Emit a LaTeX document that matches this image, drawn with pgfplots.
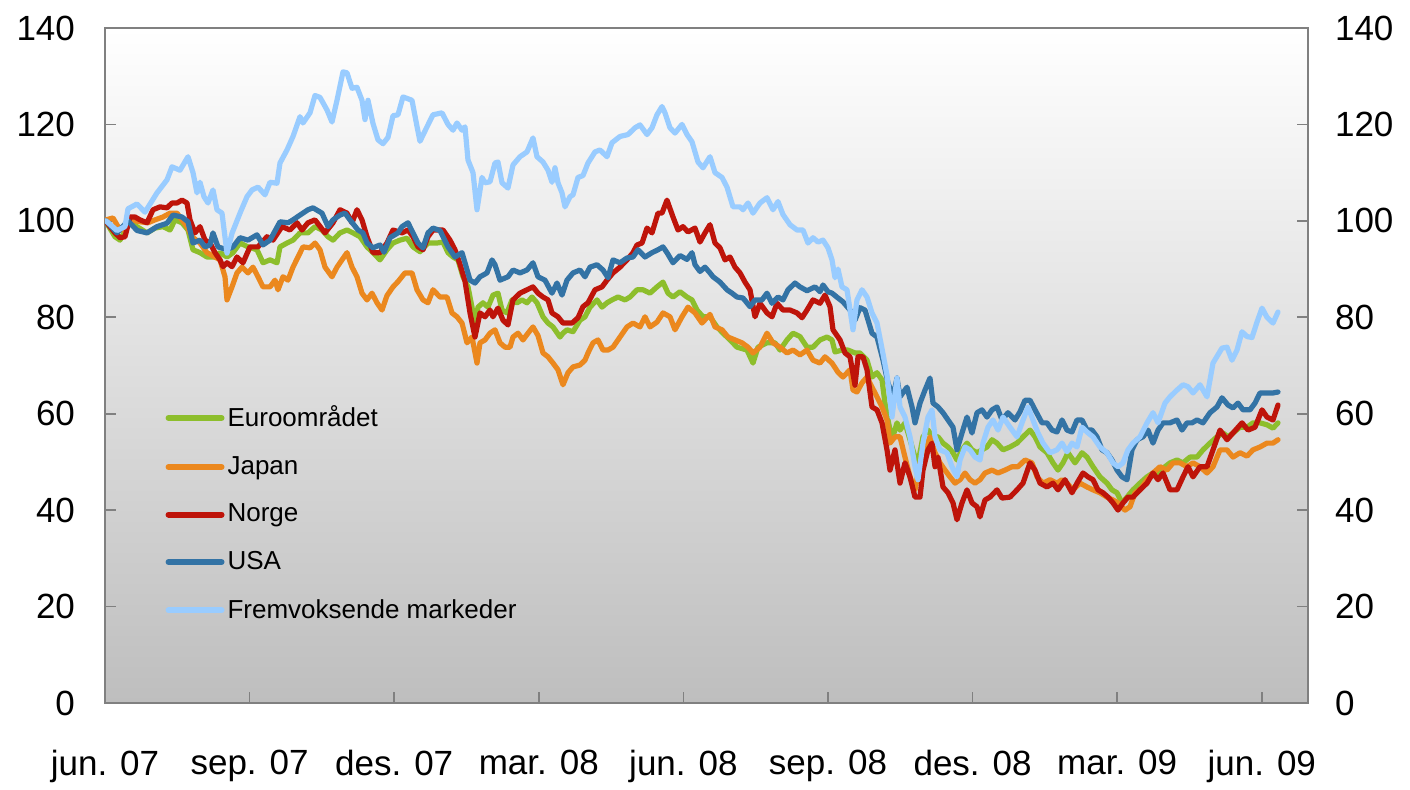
\documentclass[border=0pt]{standalone}
\usepackage{pgfplots}
\pgfplotsset{compat=1.18}
\usepackage{fontspec}
\setmainfont{Liberation Sans}
\definecolor{cEuro}{RGB}{141,190,44}
\definecolor{cJap}{RGB}{235,136,30}
\definecolor{cNor}{RGB}{190,20,10}
\definecolor{cUSA}{RGB}{51,115,165}
\definecolor{cFrem}{RGB}{153,204,255}
\definecolor{cFrame}{RGB}{128,128,128}
\begin{document}
\begin{tikzpicture}
\pgfplotsset{
  common/.style={
    width=601.5pt, height=337.5pt, scale only axis,
    at={(0pt,0pt)}, anchor=south west,
    xmin=105, xmax=1308, ymin=0, ymax=140,
    ytick={0,20,...,140},
    /pgf/number format/assume math mode=true,
    tick label style={font=\fontsize{17.5}{19}\selectfont},
    tick align=inside, major tick length=5.5pt,
  }
}
\begin{axis}[common,
  axis background/.style={top color=white, bottom color={rgb,255:red,190;green,190;blue,190}},
  axis line style={cFrame, line width=0.8pt},
  tick style={cFrame, line width=0.8pt},
  xtick={105,249.6,394.2,538.8,683.4,828,972.6,1117.2,1261.8},
  xticklabels={jun. 07, sep. 07, des. 07, mar. 08, jun. 08, sep. 08, des. 08, mar. 09, jun. 09},
  xtick pos=bottom, ytick pos=both, yticklabel pos=left,
  xticklabel style={yshift=-20pt},
  yticklabel style={xshift=-11.5pt},
  legend cell align=left,
  legend style={draw=none, fill=none, at={(rel axis cs:0.05,0.445)}, anchor=north west,
    font=\fontsize{13}{15}\selectfont, row sep=10.3pt, inner sep=0pt,
    nodes={inner sep=1.5pt}},
  legend image code/.code={\draw[#1, line width=3pt] (0pt,0pt) -- (26.5pt,0pt);},
  every axis plot/.append style={line width=2.6pt, line join=round, line cap=round},
]
% Euroområdet
\addplot[cEuro] coordinates {
(106,99.8)(115,96.7)(120,96)(130,99.8)(137,98.8)(147,97.5)(155,98.5)(163,98.8)(170,98.1)(175,100.2)
(182,99.6)(188,98.1)(193,94)(200,93.4)(207,92.5)(215,92.5)(220,93.4)(227,92.5)(233,93.4)(240,95.4)
(248,94.6)(257,94)(263,91.3)(270,91.9)(277,91.3)(280,94.6)(287,95.4)(293,96)(300,97.5)(308,97.5)
(315,98.8)(322,98.1)(328,96.7)(333,96)(340,97.5)(347,98.1)(353,97.5)(360,96.7)(367,94.6)(373,93.4)
(380,91.9)(387,94)(393,95.4)(400,96)(407,96.4)(413,94.6)(420,93.6)(428,95.4)(437,95.4)(443,95.6)
(448,93.4)(453,92.5)(458,91.9)(463,88.4)(468,86.3)(472,82.1)(475,78)(478,82.1)(483,83)(488,82.1)
(493,84.6)(498,85)(502,81.5)(507,80.9)(512,83.6)(517,83)(522,83.6)(527,83)(532,84.2)(537,83)
(543,80.1)(548,78.8)(553,78)(560,75.9)(563,76.7)(567,77.4)(573,77)(580,79.4)(585,80.1)(590,82.1)
(597,83.6)(602,82.1)(607,83)(612,83.6)(618,84.2)(625,83.6)(630,84.2)(637,85.7)(643,85.7)(650,85)
(657,86.3)(663,87.3)(668,85)(673,84.2)(680,85.3)(687,84.2)(692,83.6)(697,81.5)(703,80.1)(710,80.1)
(717,78)(723,76.7)(730,75.3)(737,73.8)(747,73.2)(753,70.5)(758,73.8)(767,74.7)(775,74.7)(780,73.2)
(787,75.3)(793,76.7)(800,76)(807,73.8)(813,73.8)(820,75.3)(827,75.9)(832,75.3)(835,72.8)(842,73.2)
(848,73.2)(855,72.6)(860,72.6)(867,71.1)(872,67.6)(877,68.5)(882,67)(885,62.2)(888,58.7)(892,54.6)
(897,58.1)(900,56.6)(905,58.1)(910,54.6)(915,51)(918,49.8)(923,55.2)(928,56.6)(933,55.2)(938,55.2)
(943,53.9)(948,53.1)(953,51.9)(957,50.4)(962,52.5)(967,53.9)(972,52.5)(977,51.9)(982,52.5)(987,53.1)
(992,54.6)(997,53.9)(1003,52.5)(1010,53.1)(1017,53.9)(1023,55.2)(1030,56.6)(1035,55.2)(1040,53.1)(1047,51.9)
(1053,49.8)(1058,48.3)(1063,49.8)(1068,51.9)(1075,49.8)(1082,51.9)(1087,51)(1093,49)(1100,46.9)(1107,45.6)
(1112,44.2)(1117,43.6)(1122,41.5)(1127,42.7)(1133,44.2)(1140,45.6)(1147,46.9)(1153,47.7)(1160,47.7)(1165,49)
(1170,49.8)(1177,50.4)(1183,49.8)(1190,51)(1197,51)(1203,52.5)(1210,53.9)(1217,55.2)(1223,56)(1228,55.2)
(1233,56)(1240,57.2)(1247,57.2)(1253,58.1)(1260,58.1)(1267,57.7)(1273,57)(1278,58.1)
};
\addlegendentry{Euroområdet}
% Japan
\addplot[cJap] coordinates {
(106,100.2)(113,100.6)(118,98.8)(123,98.1)(132,100.2)(140,99.8)(148,99.6)(155,100.2)(163,100.8)(170,101.6)
(177,101.6)(182,100.2)(187,98.8)(192,96.7)(200,95.4)(207,93.4)(215,92.5)(220,91.9)(225,88.4)(227,83.6)
(232,86.3)(237,89.2)(242,90.4)(248,89.2)(253,90.4)(258,88.4)(263,86.3)(270,86.3)(275,87.7)(278,85.7)
(283,88.4)(288,87.7)(293,90.4)(298,92.5)(303,94.6)(310,94.4)(315,95.4)(320,94)(325,90.4)(332,88.4)
(337,90.4)(342,91.9)(347,93.4)(352,90.4)(357,88.4)(362,85)(367,83.6)(372,85)(377,83)(382,81.5)
(387,84.5)(393,86.3)(398,87.4)(405,89.2)(412,89.2)(417,85.7)(423,83.6)(428,83)(433,85.7)(440,84.2)
(447,84.2)(452,80.9)(457,80.1)(462,78.8)(467,74.7)(472,75.9)(477,70.5)(480,74.7)(485,75.3)(490,76.7)
(495,77.4)(500,74.7)(505,73.8)(510,73.8)(513,75.9)(518,76.7)(523,75.3)(528,76.7)(533,78)(538,76.2)
(543,72.6)(548,71.8)(553,70.5)(558,69.1)(563,66)(568,68.5)(573,69.7)(580,70.1)(585,71.1)(588,72.6)
(593,74.7)(598,75.3)(603,73.2)(608,73.2)(613,73.8)(620,75.9)(627,78)(633,78.8)(640,78)(645,80.1)
(650,78)(657,79)(663,80.9)(670,80.1)(675,77.4)(682,80.1)(688,82.1)(695,80.9)(702,78.8)(710,80.6)
(715,78)(722,77.4)(728,75.9)(735,75.3)(742,74.7)(748,73.8)(753,72.6)(760,73.8)(767,76.7)(773,74.7)
(780,73.8)(787,72.6)(793,73.2)(800,72.2)(807,73.2)(813,71.1)(820,70.5)(825,71.8)(832,70.5)(838,68.6)
(843,67.6)(850,69.1)(853,64.9)(857,64.5)(862,66.4)(867,67.6)(872,65.5)(877,63.5)(882,61.4)(887,58.7)
(890,53.9)(895,55.2)(900,55.2)(905,51)(910,46.9)(915,44.2)(920,49.8)(925,52.5)(930,55.2)(935,51.9)
(940,49.8)(945,48.3)(950,46.9)(955,45.6)(960,46.3)(965,47.7)(970,46.3)(975,45.6)(980,46.3)(985,47.7)
(992,48.3)(998,47.7)(1005,48.3)(1012,49)(1018,49)(1025,50.4)(1032,49.8)(1037,46.9)(1043,45.6)(1050,46.3)
(1057,45.6)(1062,46.3)(1067,45.6)(1073,44.2)(1080,45.6)(1087,44.8)(1093,44.2)(1100,43.6)(1107,42.7)(1113,42.1)
(1118,41.5)(1125,40)(1130,40.7)(1135,43.6)(1140,44.2)(1147,46.3)(1153,47.7)(1160,49)(1167,48.3)(1173,49.8)
(1180,49.8)(1187,49)(1193,49.8)(1200,49)(1207,47.7)(1213,49)(1220,52.5)(1227,52.5)(1233,51)(1240,51.9)
(1247,51.2)(1253,52.5)(1260,53.1)(1267,53.9)(1273,53.9)(1278,54.6)
};
\addlegendentry{Japan}
% Norge
\addplot[cNor] coordinates {
(106,99.8)(115,97.5)(120,96.5)(125,96.7)(130,100.8)(135,100.8)(140,100.2)(147,99.6)(153,102.3)(160,102.9)
(167,102.7)(172,103.7)(177,103.7)(182,104.3)(187,103.7)(190,100.2)(195,97.5)(200,98.8)(205,96)(210,95.4)
(215,93.4)(220,91.9)(223,90.5)(227,91.3)(232,90.5)(237,92.5)(243,91.3)(250,94.6)(258,94.6)(267,96.7)
(273,96)(282,98.8)(290,98.1)(297,99.6)(302,98.1)(308,99.6)(315,100.2)(325,97.5)(333,99.6)(340,102.3)
(347,101.6)(352,99.6)(357,102.3)(362,100.2)(367,96.7)(373,93.4)(380,93.4)(387,95.4)(393,98.1)(402,97.5)
(408,98.1)(413,96.7)(418,94.6)(423,94)(428,96.7)(433,98.1)(443,98.1)(450,96)(455,94)(460,91)
(465,87.5)(470,80.9)(475,75.9)(480,80.9)(485,80.1)(490,81.5)(493,80.1)(498,81.9)(503,79.4)(508,78.4)
(513,83.6)(520,85)(527,85.7)(533,86.3)(538,85)(543,84.2)(548,83.6)(552,80.9)(558,80.1)(563,78.8)
(572,78.8)(578,79.9)(583,82.2)(588,83)(595,85.7)(602,86.3)(607,87.7)(613,89.2)(620,90.4)(627,91.9)
(633,93.4)(637,95)(642,95.4)(647,98.5)(652,97.5)(658,101.6)(662,101.6)(667,104.3)(673,100.8)(678,98.1)
(683,98.8)(688,97.7)(695,98.5)(700,95.6)(705,97.5)(710,99.2)(715,95.4)(720,94.4)(725,91.9)(730,92.5)
(735,90.4)(740,89.2)(745,87.3)(750,85.7)(755,80.1)(760,82.9)(767,80.9)(772,80.1)(777,82.9)(783,81.5)
(790,81.5)(797,80.9)(802,79.9)(807,81.5)(813,83.6)(820,82.9)(825,84.6)(830,82.2)(833,77.4)(840,75.3)
(845,72.6)(850,71.8)(855,65.9)(858,71.8)(863,71.8)(867,69.1)(872,61.4)(877,60.8)(882,58.1)(887,52.5)
(890,48.3)(895,52.5)(900,45.6)(905,49.8)(910,46.9)(915,42.7)(920,42.7)(923,48.3)(928,52.5)(932,53.9)
(935,49)(938,51)(943,44.8)(948,43.6)(953,41.5)(957,38)(962,41.5)(967,44.2)(972,41.5)(977,40.7)
(980,38.6)(985,42.1)(990,42.7)(997,44.2)(1002,42.5)(1010,42.7)(1017,44.2)(1023,45.6)(1030,49.8)(1035,48.3)
(1040,45.6)(1047,44.8)(1053,45.6)(1058,44.2)(1065,46.3)(1072,43.6)(1077,45.6)(1083,47.7)(1088,46.9)(1093,46.3)
(1098,44.2)(1103,43.6)(1108,42.7)(1113,41.5)(1118,40)(1123,41.5)(1128,42.7)(1133,42.7)(1140,44.2)(1147,45.6)
(1153,47.7)(1158,46.3)(1163,47.7)(1170,44.2)(1177,44.2)(1183,46.9)(1188,49)(1193,46.9)(1200,49)(1207,49)
(1213,52.5)(1220,56.6)(1227,54.6)(1233,56)(1242,58.1)(1248,56.6)(1255,57.2)(1262,60.8)(1267,59.3)(1273,58.7)
(1278,61.8)
};
\addlegendentry{Norge}
% USA
\addplot[cUSA] coordinates {
(106,100)(117,97.5)(128,100)(137,98)(147,97.5)(157,98.8)(167,99.5)(173,101.2)(182,100.8)(188,99.8)
(193,95.4)(200,96)(205,94.6)(210,95)(213,97.5)(218,94.6)(227,94)(233,94.6)(240,96.5)(248,96)
(257,97.1)(263,95)(270,96)(280,99.8)(288,99.6)(293,100.2)(300,101.2)(308,102.3)(313,102.7)(322,101.6)
(328,98.8)(333,100.2)(340,101.2)(345,101.6)(350,100.2)(358,98.1)(363,97.5)(367,95.4)(373,94.4)(380,95)
(384,93.5)(390,96.5)(398,97.5)(402,98.8)(408,99.6)(413,97.5)(418,95.4)(423,94.4)(428,97.5)(433,98.5)
(440,98)(448,94.6)(455,92.5)(462,93.4)(465,91.3)(470,87.7)(475,87.1)(480,88.4)(487,89.2)(492,91.9)
(495,90.9)(500,87.7)(508,88.4)(513,89.8)(520,89.2)(527,89.8)(533,91.3)(538,88.4)(545,87.7)(552,85)
(557,87.1)(562,84.6)(567,87.7)(573,89.2)(580,89.8)(585,88.4)(590,90.4)(597,90.9)(603,89.8)(608,88.2)
(613,91.9)(620,91.3)(627,92.3)(633,92.5)(638,94)(645,92.5)(652,93.4)(658,94)(663,94.6)(667,93.4)
(673,91.3)(680,92.8)(687,92)(692,93.4)(695,90.9)(700,89.5)(705,90.4)(710,89.2)(713,88.4)(720,87.3)
(727,85.7)(732,85)(737,84.2)(743,84)(750,82.2)(755,83.6)(762,83.6)(767,85)(772,82.9)(778,84.2)
(783,83.6)(788,85.7)(795,87.1)(800,86.3)(807,85.5)(815,86.3)(820,85.3)(823,86.7)(828,85.3)(832,85)
(838,84)(843,83.2)(850,81.5)(855,79.4)(860,82)(865,81.5)(872,76.7)(877,75.9)(883,71.1)(888,66.4)
(893,63.5)(897,67.4)(900,63.5)(907,65.5)(912,61.4)(915,58.1)(920,62.2)(925,64.9)(930,67.4)(933,62.2)
(938,61.4)(943,60.2)(948,58.7)(953,57.2)(957,52.5)(962,56)(967,59.3)(972,56)(977,60.2)(982,60.8)
(987,59.3)(992,60.8)(997,61.4)(1002,58.7)(1008,60.2)(1015,58.7)(1020,60.4)(1025,62.8)(1030,62.8)(1035,60.8)
(1042,58.1)(1047,58.1)(1052,56.6)(1057,56.2)(1062,58.7)(1067,56.6)(1072,56.2)(1077,58.7)(1082,58.7)(1087,56.6)
(1092,56.6)(1097,55.2)(1102,52.5)(1107,51.9)(1112,50.4)(1117,48.3)(1122,46.9)(1127,46.3)(1132,52.5)(1137,54.6)
(1143,55.2)(1148,56.6)(1153,53.9)(1158,56.6)(1163,58.1)(1170,58.1)(1177,58.7)(1182,56.6)(1187,58.1)(1192,58.1)
(1197,58.7)(1203,58.1)(1210,60.2)(1217,61.4)(1222,63.3)(1228,61.8)(1233,61.2)(1238,62.2)(1243,60.8)(1250,60.8)
(1255,62.2)(1260,64.3)(1267,64.3)(1273,64.3)(1278,64.5)
};
\addlegendentry{USA}
% Fremvoksende markeder
\addplot[cFrem] coordinates {
(106,100)(117,98)(125,98.8)(128,102.5)(137,103.5)(145,101.8)(157,105.8)(167,108.5)(172,111.2)(180,110.5)
(188,113.3)(193,110)(197,105.8)(200,108)(204,105)(208,103.7)(213,106.4)(217,102.3)(222,101.6)(227,93.3)
(232,97.4)(240,101.6)(247,105)(252,106.4)(258,107)(265,105.4)(270,108)(277,107.8)(280,112)(287,114.7)
(293,117.5)(300,121.6)(303,120.3)(310,122.4)(315,126)(320,125.6)(327,123)(332,120.5)(337,125)(343,130.9)
(347,130.7)(352,127.5)(357,127.7)(362,125)(365,121)(368,125)(373,120.2)(378,116.8)(383,116)(388,117.3)
(393,121.8)(398,122)(403,125.7)(412,125)(417,119.6)(420,116.5)(427,119.5)(433,122)(442,122.4)(448,120)
(453,118.8)(457,120.3)(462,118.8)(465,119.5)(468,112.6)(473,110)(477,102.3)(482,109)(485,107.9)(490,108.1)
(495,112)(498,112.2)(502,107.9)(508,106.8)(513,111.6)(520,113.3)(527,114.3)(533,117.2)(537,113.3)(543,112.2)
(548,110.5)(552,108)(555,111)(558,107.9)(562,105.8)(565,102.9)(570,105)(573,105.4)(578,109)(583,109.4)
(588,112)(595,114.3)(600,114.7)(607,113.3)(612,116.2)(620,117.5)(628,117.9)(635,119.3)(640,119.9)(647,117.9)
(652,119.3)(657,122)(662,123.7)(665,122.4)(670,119.3)(675,118.2)(682,120)(687,117.9)(692,116.4)(698,112.2)
(703,111)(710,113.3)(715,110)(722,109)(727,107)(733,102.9)(740,102.9)(743,102.3)(748,103.7)(753,101.6)
(760,103.7)(767,104.8)(773,102.3)(778,104)(783,101.3)(790,99.2)(797,98.1)(803,98.1)(808,95.4)(813,96.5)
(818,95.6)(823,96)(828,94.4)(832,91.9)(835,88.2)(838,90)(842,86.3)(847,85.7)(853,77.4)(857,83.6)
(862,85.7)(867,84.2)(872,80.9)(877,78.8)(882,73.5)(887,68)(892,59.3)(897,67.4)(900,61.4)(905,59.3)
(910,55.2)(915,49)(918,46.3)(923,53.9)(928,59.3)(932,60.8)(935,55.2)(940,52.5)(947,51.9)(952,49)
(957,46.9)(960,50.4)(965,53.1)(970,52.5)(975,51)(980,50.4)(983,53.9)(988,57.2)(993,58.7)(998,56.6)
(1003,59.3)(1010,57.2)(1017,55.2)(1022,58.1)(1028,61.4)(1033,58.7)(1038,56)(1043,53.9)(1050,51.9)(1057,52.5)
(1062,53.9)(1067,52.1)(1072,53.9)(1077,53.1)(1082,57.2)(1087,56.2)(1093,55.2)(1100,53.1)(1107,51.9)(1113,49.8)
(1118,49)(1123,49.8)(1128,52.5)(1133,53.9)(1140,55.2)(1147,58.1)(1153,60.2)(1158,58.1)(1165,62.2)(1170,63.5)
(1177,64.9)(1183,66)(1188,65.6)(1193,64.3)(1200,66)(1207,63.5)(1213,70.5)(1222,73.6)(1227,73.8)(1232,71.1)
(1237,73.2)(1242,77)(1247,76)(1252,75.8)(1257,79)(1262,81.9)(1267,80)(1273,78.8)(1278,81.1)
};
\addlegendentry{Fremvoksende markeder}
\end{axis}
\begin{axis}[common,
  axis line style={draw=none}, tick style={draw=none},
  xtick=\empty, yticklabel pos=right,
  yticklabel style={xshift=10pt},
]
\end{axis}
\path[use as bounding box] (-52.5pt,-40.5pt) rectangle (652.5pt,351.5pt);
\end{tikzpicture}
\end{document}
